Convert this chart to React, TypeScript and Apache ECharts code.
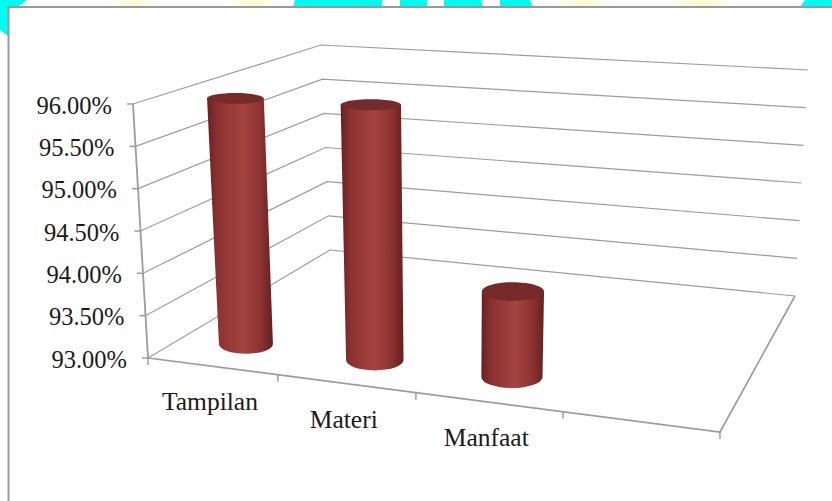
import React, { useEffect, useRef } from "react";
import * as echarts from "echarts";

// Chart data
const categories = ["Tampilan", "Materi", "Manfaat", ""];
const scores = [95.97, 95.99, 93.97];
const valueTicks = [93, 93.5, 94, 94.5, 95, 95.5, 96];
const valueMin = 93;
const valueMax = 96;

// Box corners of the pseudo-3D plot, as page pixels
const FLOOR_FL = [148, 358];
const FLOOR_FR = [720, 432];
const FLOOR_BL = [330, 250];
const FLOOR_BR = [795, 296];
const TOP_FL = [133, 104];
const TOP_FR = [735, 140];
const TOP_BL = [321, 45];
const TOP_BR = [808, 70];

const GRID = { left: 148, top: 104, width: 572, height: 254 };
const FORESHORTEN = 0.881; // category bands widen towards the right
const COLUMN_DEPTH = 0.2; // depth of the column axis inside the box
const COLUMN_HALF_BAND = 0.054;
const COLUMN_HALF_DEPTH = 0.088;
const LINE = "#9c9c9c";
const SERIF = '"Liberation Serif", "Times New Roman", serif';

const mix = (a: number[], b: number[], k: number) => [a[0] + (b[0] - a[0]) * k, a[1] + (b[1] - a[1]) * k];

// Maps a normalised position (along the categories, up the values, into the depth) to pixels
function project(t: number, h: number, d: number) {
  const f = (t * FORESHORTEN) / (1 + (FORESHORTEN - 1) * t);
  const floor = mix(mix(FLOOR_FL, FLOOR_FR, f), mix(FLOOR_BL, FLOOR_BR, f), d);
  const top = mix(mix(TOP_FL, TOP_FR, f), mix(TOP_BL, TOP_BR, f), d);
  return mix(floor, top, h);
}

function normalised(api: any, category: number, value: number) {
  const p = api.coord([category, value]);
  return [(p[0] - GRID.left) / GRID.width, (GRID.top + GRID.height - p[1]) / GRID.height];
}

const lineEl = (a: number[], b: number[], width = 1.2, color = LINE) => ({
  type: "line",
  shape: { x1: a[0], y1: a[1], x2: b[0], y2: b[1] },
  style: { stroke: color, lineWidth: width, fill: null },
});

const textEl = (text: string, x: number, y: number, align: string, size: number) => ({
  type: "text",
  style: {
    text,
    x,
    y,
    fill: "#1a1a1a",
    font: `${size}px ${SERIF}`,
    align,
    verticalAlign: "middle",
    textAlign: align,
    textVerticalAlign: "middle",
  },
});

// Walls, floor, axes and their labels
function renderFrame(_: any, api: any) {
  const children: any[] = [];
  valueTicks.forEach((v) => {
    const h = normalised(api, 0, v)[1];
    const front = project(0, h, 0);
    const back = project(0, h, 1);
    const right = project(1, h, 1);
    children.push({
      type: "polyline",
      shape: { points: [front, back, right] },
      style: { stroke: LINE, lineWidth: 1.2, fill: null },
    });
    children.push(lineEl([front[0] - 6, front[1]], front, 1.5));
    children.push(textEl(`${v.toFixed(2)}%`, front[0] - 21, front[1] + 1, "right", 24.5));
  });
  children.push(lineEl(project(0, 0, 0), project(0, 1, 0), 1.8));
  children.push({
    type: "polyline",
    shape: { points: [project(0, 0, 0), project(1, 0, 0), project(1, 0, 1)] },
    style: { stroke: LINE, lineWidth: 1.7, fill: null },
  });
  for (let i = 0; i <= categories.length; i++) {
    const p = project(i / categories.length, 0, 0);
    children.push(lineEl(p, [p[0], p[1] + 7], 1.5));
  }
  categories.forEach((name, i) => {
    if (!name) return;
    const t = normalised(api, i, valueMin)[0];
    const p = project(t, 0, 0);
    children.push(textEl(name, p[0] - 2, p[1] + 35.5, "center", 25.5));
  });
  return { type: "group", children };
}

// One shaded cylinder per score
function renderCylinder(_: any, api: any) {
  const category = api.value(0);
  const value = api.value(1);
  const t = normalised(api, category, value)[0];
  const h = normalised(api, category, value)[1];
  const end = (height: number) => {
    const c = project(t, height, COLUMN_DEPTH);
    const l = project(t - COLUMN_HALF_BAND, height, COLUMN_DEPTH);
    const r = project(t + COLUMN_HALF_BAND, height, COLUMN_DEPTH);
    const n = project(t, height, COLUMN_DEPTH - COLUMN_HALF_DEPTH);
    const f = project(t, height, COLUMN_DEPTH + COLUMN_HALF_DEPTH);
    return { cx: c[0], cy: c[1], rx: (r[0] - l[0]) / 2, ry: (n[1] - f[1]) / 2 };
  };
  const base = end(0);
  const cap = end(h);
  const d =
    `M ${cap.cx - cap.rx} ${cap.cy} L ${base.cx - base.rx} ${base.cy} ` +
    `A ${base.rx} ${base.ry} 0 0 0 ${base.cx + base.rx} ${base.cy} ` +
    `L ${cap.cx + cap.rx} ${cap.cy} Z`;
  return {
    type: "group",
    children: [
      {
        type: "path",
        shape: { pathData: d },
        style: {
          fill: new echarts.graphic.LinearGradient(0, 0, 1, 0, [
            { offset: 0, color: "#682020" },
            { offset: 0.16, color: "#8c3231" },
            { offset: 0.55, color: "#a6433f" },
            { offset: 0.82, color: "#8a3231" },
            { offset: 1, color: "#642020" },
          ]),
        },
      },
      {
        type: "ellipse",
        shape: { cx: cap.cx, cy: cap.cy, rx: cap.rx, ry: cap.ry },
        style: { fill: "#762a29" },
      },
    ],
  };
}

const paleGlow = (x: number, width: number) => ({
  type: "rect",
  z: -3,
  shape: { x, y: 0, width, height: 7 },
  style: {
    fill: new echarts.graphic.LinearGradient(0, 0, 1, 0, [
      { offset: 0, color: "#ffffff" },
      { offset: 0.5, color: "#fffbd2" },
      { offset: 1, color: "#ffffff" },
    ]),
  },
});

const cyanPatch = (points: number[][]) => ({
  type: "polygon",
  z: -3,
  shape: { points },
  style: { fill: "#00fbf0" },
});

export default function App() {
  const ref = useRef<HTMLDivElement>(null);

  useEffect(() => {
    document.body.style.margin = "0";
    const chart = echarts.init(ref.current!, null, { renderer: "svg" });
    chart.setOption({
      animation: false,
      backgroundColor: "#ffffff",
      grid: { left: GRID.left, top: GRID.top, width: GRID.width, height: GRID.height },
      xAxis: { type: "category", data: categories, show: false },
      yAxis: { type: "value", min: valueMin, max: valueMax, interval: 0.5, show: false },
      // Decorative slide backdrop and the chart's panel
      graphic: [
        cyanPatch([[0, 0], [27, 0], [8, 14], [8, 36], [0, 30]]),
        paleGlow(108, 50),
        paleGlow(228, 52),
        cyanPatch([[295, 0], [382, 0], [382, 7], [293, 7]]),
        cyanPatch([[400, 0], [427, 0], [427, 7], [400, 7]]),
        cyanPatch([[444, 0], [481, 0], [483, 7], [444, 7]]),
        cyanPatch([[500, 0], [530, 0], [533, 7], [500, 7]]),
        paleGlow(548, 70),
        paleGlow(660, 80),
        cyanPatch([[805, 0], [832, 0], [832, 7], [800, 7]]),
        {
          type: "rect",
          z: -2,
          shape: { x: 8.5, y: 7, width: 900, height: 600 },
          style: { fill: "#ffffff", stroke: "#999999", lineWidth: 2 },
        },
      ],
      series: [
        {
          type: "custom",
          coordinateSystem: "cartesian2d",
          clip: false,
          silent: true,
          renderItem: renderFrame,
          data: [[0, valueMin]],
          z: 2,
        },
        {
          type: "custom",
          coordinateSystem: "cartesian2d",
          clip: false,
          silent: true,
          renderItem: renderCylinder,
          encode: { x: 0, y: 1 },
          data: scores.map((s, i) => [i, s]),
          z: 3,
        },
      ],
    });
    return () => chart.dispose();
  }, []);

  return <div ref={ref} style={{ width: 832, height: 501 }} />;
}
